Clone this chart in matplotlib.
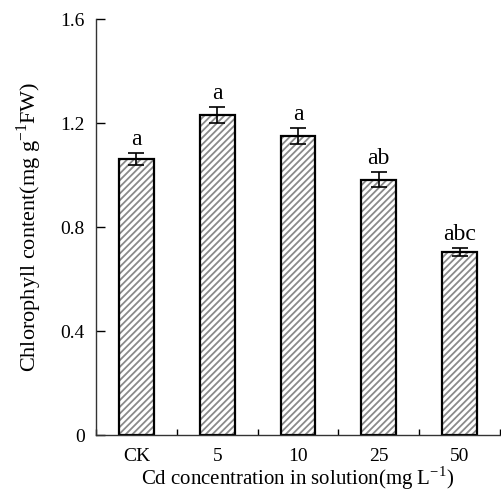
import numpy as np
import matplotlib
matplotlib.use("Agg")
import matplotlib.pyplot as plt

plt.rcParams["font.family"] = ["Liberation Serif", "DejaVu Serif"]
plt.rcParams["hatch.linewidth"] = 1.3

categories = ["CK", "5", "10", "25", "50"]
values = [1.060, 1.231, 1.151, 0.981, 0.705]
errors = [0.023, 0.032, 0.030, 0.029, 0.015]
letters = ["a", "a", "a", "ab", "abc"]

fig = plt.figure(figsize=(5.01, 4.94), dpi=100)
ax = fig.add_axes([0.1916, 0.1194, 0.8064, 0.8421])

x = np.arange(len(categories))
w = 0.43
ax.bar(x, values, width=w, color="white", edgecolor="#8a8a8a", hatch="/////", linewidth=0)
ax.bar(x, values, width=w, fill=False, edgecolor="black", linewidth=1.6)
ax.errorbar(x, values, yerr=errors, fmt="none", ecolor="black", elinewidth=1.2,
            capsize=6, capthick=1.2)
for xi, v, e, t in zip(x, values, errors, letters):
    ax.text(xi, v + e + 0.012, t, ha="center", va="bottom", fontsize=17)

ax.set_xlim(-0.5, 4.5)
ax.set_ylim(0, 1.6)
ax.set_yticks([0, 0.4, 0.8, 1.2, 1.6])
ax.set_yticklabels(["0", "0.4", "0.8", "1.2", "1.6"])
ax.set_xticks(x)
ax.set_xticklabels(categories)
ax.set_xticks(np.arange(-0.5, 5.0, 1.0), minor=True)
ax.tick_params(axis="x", which="major", length=0, pad=9, labelsize=14)
ax.tick_params(axis="x", which="minor", direction="in", length=4.5, width=1)
ax.tick_params(axis="y", direction="in", length=6.5, width=1, pad=8, labelsize=14)

for s in ["top", "right"]:
    ax.spines[s].set_visible(False)
for s in ["left", "bottom"]:
    ax.spines[s].set_linewidth(1.0)
    ax.spines[s].set_color("#333333")

ax.set_xlabel("Cd concentration in solution(mg L$^{\\mathregular{-1}}$)", fontsize=15, labelpad=0)
ax.set_ylabel("Chlorophyll content(mg g$^{\\mathregular{-1}}$FW)", fontsize=16, labelpad=12)

fig.savefig("out.png", dpi=100)
